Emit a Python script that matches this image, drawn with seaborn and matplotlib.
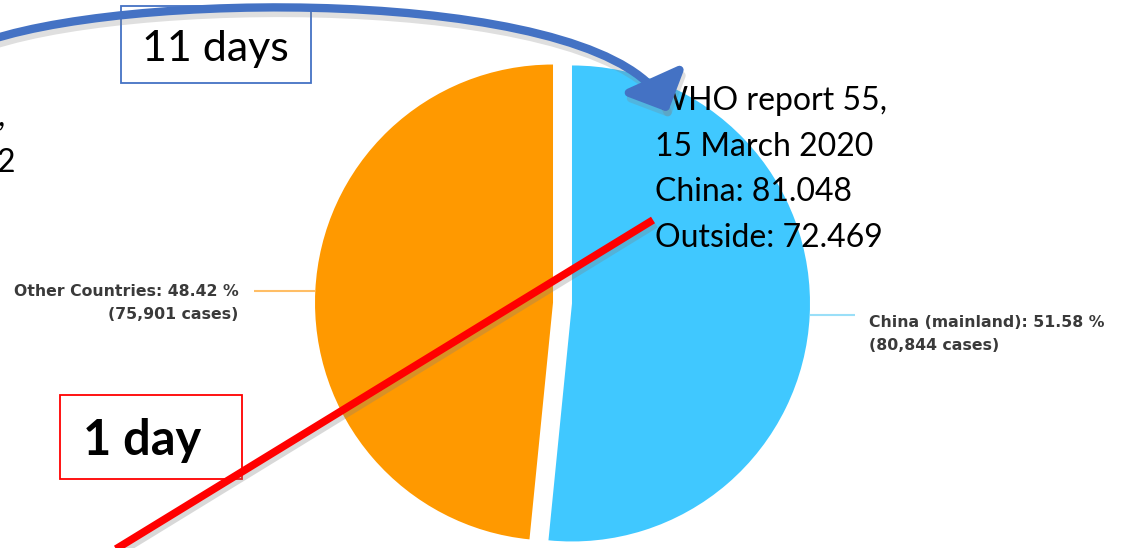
import numpy as np
import matplotlib
matplotlib.use("Agg")
import matplotlib.pyplot as plt
import seaborn as sns
from matplotlib.patches import FancyArrowPatch, Rectangle, ArrowStyle
from matplotlib.path import Path
import matplotlib.patheffects as pe

# Case counts per region (WHO situation data)
regions = ["China (mainland)", "Other Countries"]
cases = [80844, 75901]
slice_colors = ["#40C8FF", "#FF9900"]
leader_colors = ["#9ADFF8", "#FFBE66"]

report_lines = ["WHO report 55,", "15 March 2020", "China: 81.048", "Outside: 72.469"]
left_fragments = [",", "2"]
long_lag_label = "11 days"
short_lag_label = "1 day"

sns.set_theme(style="white")
plt.rcParams["font.family"] = ["Lato", "DejaVu Sans"]

W, H = 1127, 548
fig = plt.figure(figsize=(W / 100, H / 100), dpi=100)
ax = fig.add_axes([0, 0, 1, 1])

# Pie: China starts at the top and runs clockwise (y axis is flipped below)
cx, cy, R = 562.5, 303, 238
total = sum(cases)
wedges, _ = ax.pie(
    cases, colors=slice_colors, startangle=-90, counterclock=True,
    explode=[9.5, 9.5], radius=R, center=(cx, cy), frame=True,
    wedgeprops=dict(linewidth=0),
)
ax.set_xlim(0, W)
ax.set_ylim(H, 0)
ax.set_aspect("equal")
ax.axis("off")

# Leader lines and slice labels
for w, name, n, lc in zip(wedges, regions, cases, leader_colors):
    ang = np.deg2rad((w.theta1 + w.theta2) / 2)
    ex = w.center[0] + w.r * np.cos(ang)
    ey = w.center[1] + w.r * np.sin(ang)
    right = np.cos(ang) > 0
    lx = ex + (45 if right else -61)
    ax.plot([ex, lx], [ey, ey], color=lc, lw=1.5, solid_capstyle="butt", zorder=3)
    ax.text(lx + (14 if right else -16), ey + (0 if right else -7),
            f"{name}: {100 * n / total:.2f} %\n({n:,} cases)",
            ha="left" if right else "right", va="top",
            family="DejaVu Sans", fontweight="bold", fontsize=11.3,
            color="#3a3a3a", linespacing=1.68, zorder=3)

# Report summary text
for i, line in enumerate(report_lines):
    ax.text(655, 110 + i * 45.7, line, fontsize=23, color="black",
            ha="left", va="baseline", zorder=5)

# Partially visible text at the left edge
for i, frag in enumerate(left_fragments):
    ax.text(-3, 126 + i * 46, frag, fontsize=23, color="black",
            ha="left", va="baseline", zorder=5)

# "11 days" box
ax.add_patch(Rectangle((121, 6), 190, 77, facecolor="white",
                       edgecolor="#4472C4", lw=1.3, zorder=6))
ax.text(215, 61, long_lag_label, fontsize=31, ha="center", va="baseline",
        color="black", zorder=7)

# Curved arrow from the left to the report text
arc = Path([(-10, 40), (150, -12), (613, -10), (668, 112)],
           [Path.MOVETO, Path.CURVE4, Path.CURVE4, Path.CURVE4])
arrow = FancyArrowPatch(
    path=arc, arrowstyle=ArrowStyle("-|>", head_length=20, head_width=20),
    mutation_scale=1, color="#4472C4", lw=6, zorder=8,
    path_effects=[pe.SimpleLineShadow(offset=(1.5, -4), alpha=0.25, shadow_color="gray"),
                  pe.Normal()],
)
ax.add_patch(arrow)

# "1 day" box
ax.add_patch(Rectangle((60, 395), 182, 84, facecolor="white",
                       edgecolor="#FF0000", lw=1.3, zorder=6))
ax.text(83, 455, short_lag_label, fontsize=35, fontweight="bold",
        ha="left", va="baseline", color="black", zorder=7)

# Red line
ax.plot([98, 653], [560, 220], color="#FF0000", lw=5.5, solid_capstyle="butt",
        zorder=9,
        path_effects=[pe.SimpleLineShadow(offset=(2, -3), alpha=0.3, shadow_color="gray"),
                      pe.Normal()])

fig.savefig("out.png", dpi=100)
